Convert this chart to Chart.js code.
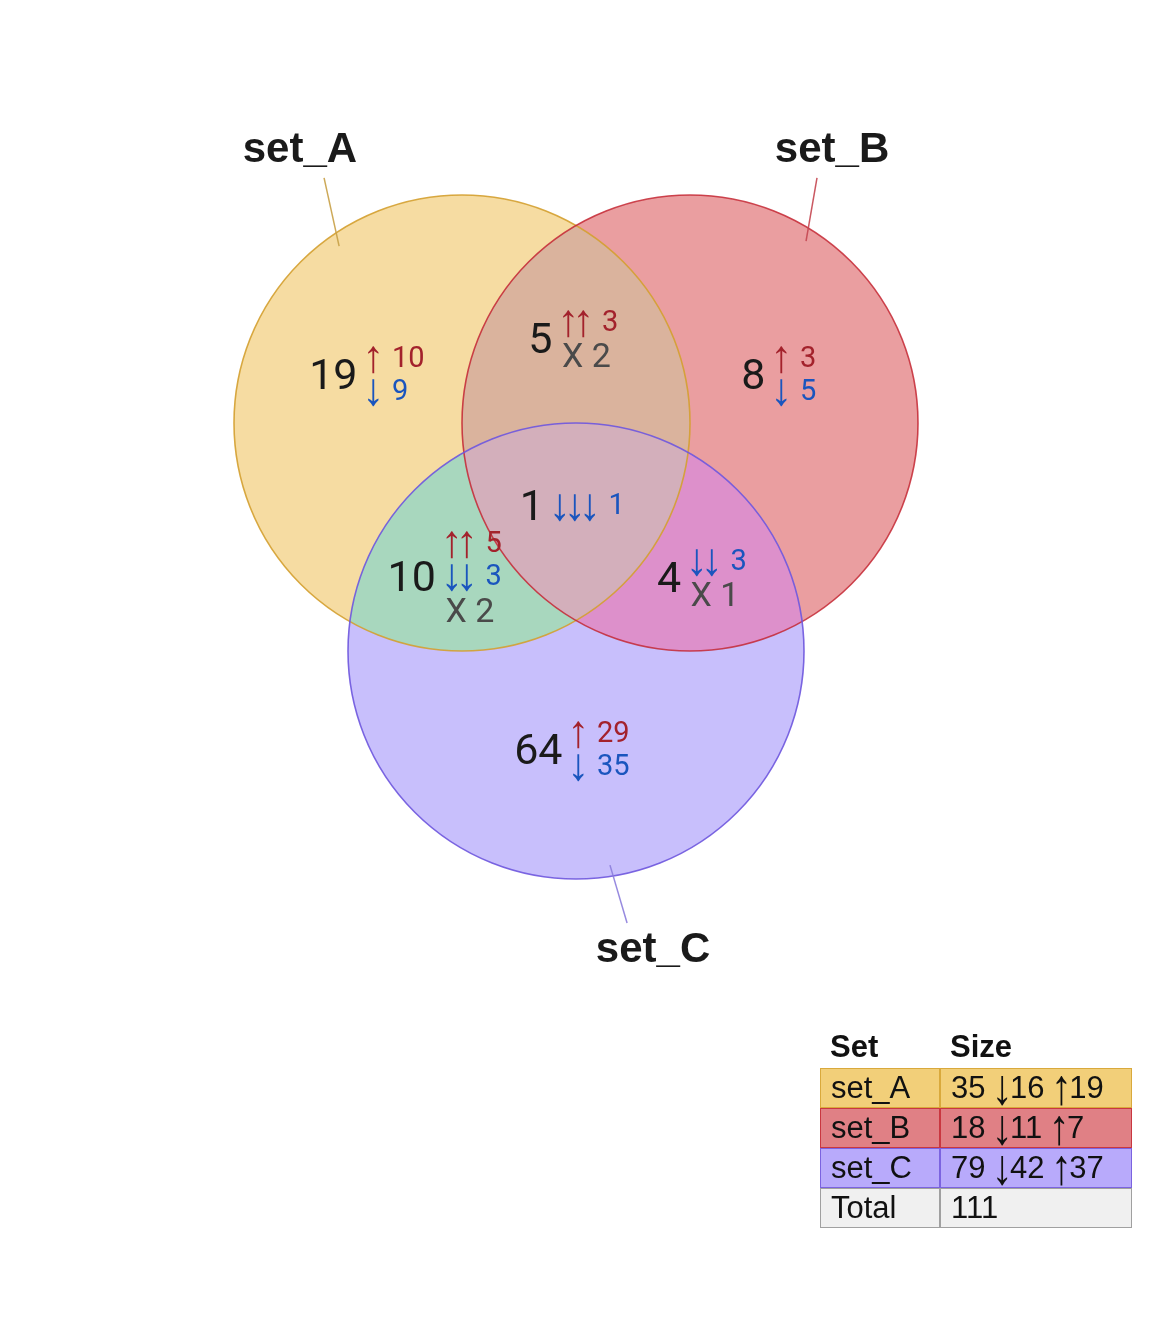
<!DOCTYPE html>
<html>
<head>
<meta charset="utf-8">
<script src="https://cdn.jsdelivr.net/npm/chart.js@4.4.1/dist/chart.umd.min.js"></script>
<style>
  html, body { margin: 0; padding: 0; background: #ffffff; }
  #wrap { position: relative; width: 1152px; height: 1344px; }
  #c { position: absolute; left: 0; top: 0; }
  #tbl { position: absolute; left: 820px; top: 1028px; font-family: "Liberation Sans", Arial, sans-serif; font-size: 31px; color: #111; }
  .row { display: flex; height: 40px; }
  .cell { box-sizing: border-box; height: 40px; line-height: 37px; padding-left: 10px; white-space: nowrap; }
  .c1 { width: 120px; }
  .c2 { width: 192px; }
  .head .cell { font-weight: bold; border: none; }
  .arr { display: inline-block; font-family: "Liberation Sans", Arial, sans-serif; font-size: 42px; line-height: 0; }
</style>
</head>
<body>
<div id="wrap">
  <canvas id="c" width="1152" height="1344"></canvas>
  <div id="tbl"></div>
</div>
<script>
// ---------- data ----------
const setNames   = ['set_A', 'set_B', 'set_C'];
const setSize    = [35, 18, 79];
const setDown    = [16, 11, 42];
const setUp      = [19, 7, 37];
const totalSize  = 111;
const tableHeads = ['Set', 'Size'];

// regions: A only, B only, C only, A∩B, A∩C, B∩C, A∩B∩C
const regionSets   = [[0], [1], [2], [0, 1], [0, 2], [1, 2], [0, 1, 2]];
const regionTotal  = [19, 8, 64, 5, 10, 4, 1];
const regionUp     = [10, 3, 29, 3, 5, 0, 0];
const regionDown   = [9, 5, 35, 0, 3, 3, 1];
const regionMixed  = [0, 0, 0, 2, 2, 1, 0];

// ---------- layout (data units: 1 = circle radius) ----------
const circleX = [-0.5, 0.5, 0];
const circleY = [0.5, 0.5, -0.5];
const circleR = [1, 1, 1];
const labelX  = [-0.921, 0.868, -0.022, -0.066, -0.577, 0.498, -0.103];
const labelY  = [0.715, 0.715, -0.930, 0.873, -0.171, -0.175, 0.140];
const setLabelX = [-1.211, 1.123, 0.338];
const setLabelY = [1.645, 1.645, -1.864];
const leadFrom  = [[-1.105, 1.575], [1.057, 1.575], [0.149, -1.439]];
const leadTo    = [[-1.039, 1.276], [1.009, 1.298], [0.224, -1.693]];

// ---------- styles ----------
const setFill   = ['#F6DCA2', '#EA9EA0', '#C8BFFC'];
const setStroke = ['rgba(212,160,48,0.9)', 'rgba(196,40,52,0.85)', 'rgba(110,86,222,0.9)'];
const leadColor = ['rgba(200,160,70,0.9)', 'rgba(196,70,80,0.9)', 'rgba(140,125,220,0.9)'];
const overlapFill = { '0,1': '#DAB39D', '0,2': '#A8D7BE', '1,2': '#DD90CB', '0,1,2': '#D3AFBB' };
const tableBg     = ['#F2CF79', '#E08085', '#B8AAFB', '#F0F0F0'];
const tableBorder = ['#D9A93C', '#C93740', '#7B63E0', '#A0A0A0'];
const UP = '\u2191', DOWN = '\u2193';
const RED = '#A3222C', BLUE = '#1A55BE', GRAY = '#4A4A4A', DARK = '#1A1A1A';
const ARROW_FONT = '44px "Liberation Sans", Arial, sans-serif';
const NUM_FONT = '29px Roboto, "Noto Sans", sans-serif';
const MIX_FONT = '34px Roboto, "Noto Sans", sans-serif';
const COUNT_FONT = '43px Roboto, "Noto Sans", sans-serif';

function drawArrow(ctx, ch, cx, cy, h) {
  ctx.font = ARROW_FONT;
  const m = ctx.measureText(ch);
  const a = m.actualBoundingBoxAscent, d = m.actualBoundingBoxDescent;
  const k = h / (a + d);
  ctx.save();
  ctx.translate(cx, cy);
  ctx.scale(1, k);
  ctx.textAlign = 'center';
  ctx.textBaseline = 'alphabetic';
  ctx.fillText(ch, 0, (a - d) / 2);
  ctx.restore();
}

const vennPlugin = {
  id: 'venn',
  afterDatasetsDraw(chart) {
    const ctx = chart.ctx;
    const xs = chart.scales.x, ys = chart.scales.y;
    const px = v => xs.getPixelForValue(v), py = v => ys.getPixelForValue(v);
    const pts = chart.getDatasetMeta(0).data;
    const circ = pts.map(p => ({ x: p.x, y: p.y, r: p.options.radius }));
    const area = chart.chartArea;

    regionSets.forEach(ids => {
      if (ids.length < 2) return;
      ctx.save();
      ids.forEach(i => {
        ctx.beginPath();
        ctx.arc(circ[i].x, circ[i].y, circ[i].r, 0, Math.PI * 2);
        ctx.clip();
      });
      ctx.fillStyle = overlapFill[ids.join(',')];
      ctx.fillRect(area.left, area.top, area.right - area.left, area.bottom - area.top);
      ctx.restore();
    });

    circ.forEach((c, i) => {
      ctx.save();
      ctx.beginPath();
      ctx.arc(c.x, c.y, c.r, 0, Math.PI * 2);
      ctx.strokeStyle = setStroke[i];
      ctx.lineWidth = 1.6;
      ctx.stroke();
      ctx.restore();
    });

    setNames.forEach((name, i) => {
      ctx.save();
      ctx.beginPath();
      ctx.moveTo(px(leadFrom[i][0]), py(leadFrom[i][1]));
      ctx.lineTo(px(leadTo[i][0]), py(leadTo[i][1]));
      ctx.strokeStyle = leadColor[i];
      ctx.lineWidth = 1.5;
      ctx.stroke();
      ctx.font = 'bold 42px "Liberation Sans", Arial, sans-serif';
      ctx.fillStyle = '#1A1A1A';
      ctx.textAlign = 'center';
      ctx.textBaseline = 'alphabetic';
      ctx.fillText(name, px(setLabelX[i]), py(setLabelY[i]));
      ctx.restore();
    });

    regionTotal.forEach((tot, r) => {
      const ax = px(labelX[r]), cy = py(labelY[r]);
      const n = regionSets[r].length;
      ctx.save();
      ctx.textBaseline = 'alphabetic';
      ctx.font = COUNT_FONT;
      ctx.fillStyle = DARK;
      ctx.textAlign = 'right';
      ctx.fillText(String(tot), ax - 8.5, cy + 15.3);

      const lines = [];
      if (regionUp[r] > 0) lines.push({ kind: 'up', v: regionUp[r] });
      if (regionDown[r] > 0) lines.push({ kind: 'down', v: regionDown[r] });
      if (regionMixed[r] > 0) lines.push({ kind: 'mix', v: regionMixed[r] });
      const step = 33;
      lines.forEach((ln, k) => {
        const lc = cy + (k - (lines.length - 1) / 2) * step;
        if (ln.kind === 'mix') {
          ctx.font = MIX_FONT;
          ctx.fillStyle = GRAY;
          ctx.textAlign = 'left';
          ctx.fillText('X ' + ln.v, ax + 1, lc + 13);
        } else {
          const col = ln.kind === 'up' ? RED : BLUE;
          const ch = ln.kind === 'up' ? UP : DOWN;
          ctx.fillStyle = col;
          for (let a = 0; a < n; a++) {
            drawArrow(ctx, ch, ax + 7.5 + a * 15, lc + 2.5, 28);
          }
          ctx.font = NUM_FONT;
          ctx.textAlign = 'left';
          ctx.fillText(String(ln.v), ax + n * 15 + 11, lc - 1 + 10.3);
        }
      });
      ctx.restore();
    });
  }
};

const W = 1152, H = 1344, unit = 228, cxPix = 576, cyPix = 537;
const radiusPx = (c) => {
  const s = c.chart.scales.x;
  return Math.abs(s.getPixelForValue(circleR[c.dataIndex]) - s.getPixelForValue(0));
};

new Chart(document.getElementById('c'), {
  type: 'scatter',
  data: {
    datasets: [{
      data: circleX.map((x, i) => ({ x: x, y: circleY[i] })),
      backgroundColor: setFill,
      borderWidth: 0,
      pointRadius: radiusPx,
      pointHoverRadius: radiusPx
    }]
  },
  options: {
    responsive: false,
    animation: false,
    events: [],
    clip: false,
    layout: { padding: 0 },
    plugins: { legend: { display: false }, tooltip: { enabled: false } },
    scales: {
      x: { type: 'linear', display: false, min: -cxPix / unit, max: (W - cxPix) / unit },
      y: { type: 'linear', display: false, min: (cyPix - H) / unit, max: cyPix / unit }
    }
  },
  plugins: [vennPlugin]
});

// ---------- legend table ----------
const mc = document.createElement('canvas').getContext('2d');
mc.font = '42px "Liberation Sans", Arial, sans-serif';
function arrowSpan(ch) {
  const m = mc.measureText(ch);
  const a = m.actualBoundingBoxAscent, d = m.actualBoundingBoxDescent;
  const fA = m.fontBoundingBoxAscent, fD = m.fontBoundingBoxDescent;
  const k = 31 / (a + d);
  const baseY = (fA - fD) / 2;
  const shift = -7.5 - (d - a) * k / 2;
  const s = document.createElement('span');
  s.className = 'arr';
  s.textContent = ch;
  s.style.transformOrigin = '50% ' + baseY + 'px';
  s.style.transform = 'translateY(' + shift + 'px) scaleY(' + k + ')';
  const adv = m.width;
  const mg = (16 - adv) / 2;
  s.style.marginLeft = mg + 'px';
  s.style.marginRight = mg + 'px';
  return s;
}
const tbl = document.getElementById('tbl');
function addRow(parts1, parts2, cls, bg, bd) {
  const row = document.createElement('div');
  row.className = 'row' + (cls ? ' ' + cls : '');
  [parts1, parts2].forEach((parts, k) => {
    const cell = document.createElement('div');
    cell.className = 'cell ' + (k === 0 ? 'c1' : 'c2');
    parts.forEach(p => {
      if (p === UP || p === DOWN) cell.appendChild(arrowSpan(p));
      else cell.appendChild(document.createTextNode(p));
    });
    if (bg) { cell.style.background = bg; cell.style.border = '1.5px solid ' + bd; }
    row.appendChild(cell);
  });
  tbl.appendChild(row);
}
addRow([tableHeads[0]], [tableHeads[1]], 'head');
setNames.forEach((n, i) => addRow([n], [setSize[i] + ' ', DOWN, String(setDown[i]) + ' ', UP, String(setUp[i])], '', tableBg[i], tableBorder[i]));
addRow(['Total'], [String(totalSize)], '', tableBg[3], tableBorder[3]);
</script>
</body>
</html>
